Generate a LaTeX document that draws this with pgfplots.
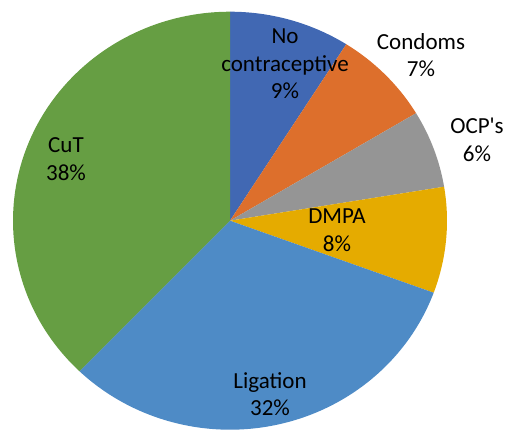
\documentclass[border=0pt]{standalone}
\usepackage{pgfplots}
\usepackage{pgfplotstable}
\pgfplotsset{compat=1.18}
\usepackage{fontspec}
\setmainfont{Carlito}[Ligatures=TeXOff]
\definecolor{cNo}{HTML}{4168B3}
\definecolor{cCon}{HTML}{DD6F2C}
\definecolor{cOCP}{HTML}{959595}
\definecolor{cDMPA}{HTML}{E5AB00}
\definecolor{cLig}{HTML}{4E8BC6}
\definecolor{cCuT}{HTML}{669E43}
\pgfplotstableread{
label value color
NoContraceptive 9.0 cNo
Condoms 7.4 cCon
OCPs 6.0 cOCP
DMPA 8.2 cDMPA
Ligation 31.6 cLig
CuT 37.8 cCuT
}\piedata
\begin{document}
\begin{tikzpicture}
\xdef\cum{0}
\begin{axis}[
  width=506pt, height=440pt, scale only axis,
  xmin=0, xmax=506, ymin=0, ymax=440,
  hide axis, clip=false,
]
\path (axis cs:0,0) rectangle (axis cs:506,440);
\pgfplotsinvokeforeach{0,...,5}{
  \pgfplotstablegetelem{#1}{value}\of\piedata \let\v\pgfplotsretval
  \pgfplotstablegetelem{#1}{color}\of\piedata \let\c\pgfplotsretval
  \pgfmathsetmacro\sa{90-3.6*\cum}
  \pgfmathsetmacro\ea{90-3.6*(\cum+\v)}
  \pgfmathsetmacro\sx{230+217*cos(\sa)}
  \pgfmathsetmacro\sy{219.3+209*sin(\sa)}
  \edef\temp{\noexpand\fill[\c, overlay] (axis cs:230,219.3) -- (axis cs:\sx,\sy) arc[start angle=\sa, end angle=\ea, x radius=217, y radius=209] -- cycle;}
  \temp
  \pgfmathsetmacro\nc{\cum+\v}
  \xdef\cum{\nc}
}
\begin{scope}[every node/.style={font=\fontsize{23}{27.5}\selectfont, align=center, text=black, inner sep=0pt, overlay}]
\node at (axis cs:285,376) {No\\contraceptive\\9\%};
\node at (axis cs:421,385) {Condoms\\7\%};
\node at (axis cs:477,300) {OCP's\\6\%};
\node at (axis cs:337,210) {DMPA\\8\%};
\node at (axis cs:270,46) {Ligation\\32\%};
\node at (axis cs:66,281) {CuT\\38\%};
\end{scope}
\end{axis}
\end{tikzpicture}
\end{document}
